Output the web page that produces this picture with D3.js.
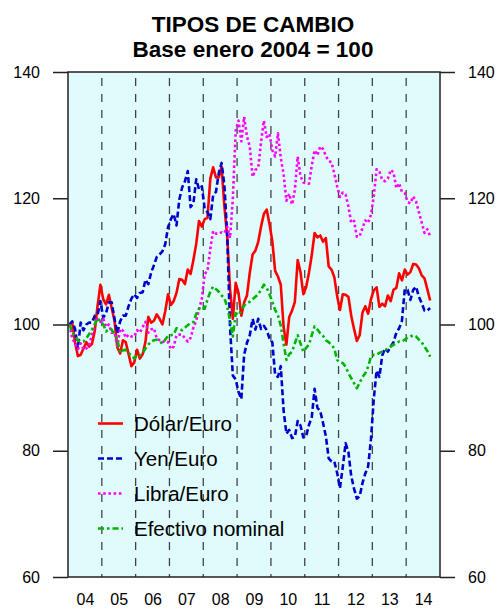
<!DOCTYPE html>
<html>
<head>
<meta charset="utf-8">
<script src="https://cdn.jsdelivr.net/npm/d3@7"></script>
<style>
	body { margin: 0; background: #fff; }
	text { font-family: "Liberation Sans", Arial, sans-serif; }
</style>
</head>
<body>
<svg id="chart"></svg>
<script>
// monthly index, Jan 2004 = 100 (Jan 2004 .. Sep 2014)
var startYear = 2004;
var yearLabels = ["04", "05", "06", "07", "08", "09", "10", "11", "12", "13", "14"];
var yTicks = [60, 80, 100, 120, 140];
var seriesNames = ["Dólar/Euro", "Yen/Euro", "Libra/Euro", "Efectivo nominal"];

var dolar = [
	100.0, 100.3, 97.2, 95.0, 95.2, 96.2, 97.2, 96.5, 96.9, 99.0, 103.0, 106.3,
	104.0, 103.2, 104.7, 102.6, 100.6, 96.4, 95.4, 97.5, 97.2, 95.3, 93.4, 94.0,
	96.0, 94.6, 95.3, 97.3, 101.2, 100.3, 100.6, 101.6, 100.9, 100.0, 102.1, 104.8,
	103.1, 103.7, 105.0, 107.2, 107.1, 106.4, 108.7, 108.0, 110.2, 112.8, 116.4, 115.5,
	116.7, 116.9, 123.1, 124.9, 123.3, 123.3, 125.0, 118.7, 113.9, 105.6, 100.9, 106.6,
	105.0, 101.4, 103.5, 104.6, 108.2, 111.1, 111.7, 113.1, 115.5, 117.5, 118.2, 115.9,
	113.2, 108.5, 107.6, 106.3, 99.6, 96.8, 101.2, 102.2, 103.6, 110.2, 108.3, 104.8,
	105.9, 108.2, 111.0, 114.5, 113.8, 114.1, 113.1, 113.7, 109.2, 108.7, 107.5, 104.5,
	102.3, 104.8, 104.7, 104.4, 101.4, 99.3, 97.4, 98.3, 101.9, 102.9, 101.7, 104.0,
	105.4, 105.9, 102.8, 103.3, 102.9, 104.6, 103.7, 105.5, 105.8, 108.1, 107.0, 108.7,
	107.9, 108.3, 109.6, 109.5, 108.9, 107.8, 107.3, 105.6, 103.8
];
var yen = [
	100.0, 100.5, 99.3, 96.2, 100.3, 99.1, 100.0, 100.3, 100.3, 101.4, 101.5, 103.7,
	101.1, 101.8, 103.5, 103.5, 100.9, 98.6, 100.5, 101.4, 101.4, 102.9, 104.1, 104.8,
	104.2, 105.0, 105.1, 107.1, 106.4, 108.2, 109.4, 110.7, 111.1, 111.6, 112.7, 115.4,
	116.7, 117.5, 115.7, 119.8, 121.7, 122.7, 124.3, 118.6, 119.2, 123.0, 121.4, 121.9,
	118.3, 117.8, 116.7, 120.5, 121.0, 124.0, 125.6, 122.0, 114.2, 99.5, 91.9, 91.3,
	89.3, 88.2, 95.2, 97.1, 98.3, 100.9, 99.2, 100.9, 99.3, 99.8, 99.1, 97.8,
	97.2, 92.0, 91.7, 93.4, 86.4, 82.7, 83.3, 82.0, 82.2, 84.7, 84.0, 82.1,
	82.3, 84.1, 85.3, 89.8, 86.8, 86.3, 84.4, 82.3, 78.8, 78.3, 78.3, 76.5,
	74.1, 77.4, 81.2, 79.8, 76.0, 74.0, 72.4, 72.8, 74.9, 76.4, 77.5, 81.8,
	88.2, 92.7, 91.7, 95.1, 96.2, 95.7, 96.5, 97.2, 98.7, 99.4, 100.6, 105.6,
	105.5, 103.9, 105.5, 106.0, 104.4, 103.4, 102.2, 102.2, 102.6
];
var libra = [
	100.0, 97.8, 97.0, 96.1, 97.0, 96.0, 96.2, 96.7, 98.4, 99.9, 100.9, 100.4,
	100.9, 99.6, 100.0, 98.7, 98.8, 96.6, 99.3, 99.0, 97.9, 98.4, 98.1, 98.1,
	99.1, 98.7, 99.6, 100.4, 98.7, 99.2, 99.4, 97.8, 97.5, 97.2, 97.4, 97.2,
	96.1, 96.5, 98.3, 98.4, 98.4, 97.8, 97.3, 97.9, 99.5, 100.6, 102.4, 104.1,
	108.0, 108.5, 112.0, 114.8, 114.4, 114.4, 114.6, 114.5, 115.5, 113.7, 120.0, 130.7,
	132.3, 129.0, 132.9, 129.8, 128.2, 123.4, 124.5, 124.8, 128.9, 132.3, 129.7, 130.2,
	127.6, 126.6, 130.3, 126.4, 123.8, 119.6, 120.7, 119.0, 121.3, 126.6, 123.5, 122.5,
	122.4, 122.3, 125.2, 127.6, 126.8, 128.2, 127.8, 126.7, 125.9, 125.7, 123.9, 121.9,
	120.2, 120.9, 120.6, 118.7, 116.1, 116.4, 113.9, 114.0, 115.3, 116.5, 116.1, 117.4,
	120.3, 124.6, 124.2, 122.9, 122.7, 123.1, 124.5, 124.1, 121.6, 122.4, 121.0, 120.8,
	119.4, 119.2, 120.3, 119.5, 117.8, 116.2, 114.5, 115.1, 114.0
];
var efectivo = [
	100.0, 98.8, 98.1, 97.5, 97.3, 97.3, 97.8, 98.5, 99.2, 100.0, 101.0, 100.5,
	100.0, 98.9, 99.3, 99.2, 98.4, 97.6, 95.5, 95.9, 96.0, 95.4, 95.2, 94.6,
	95.2, 95.1, 95.5, 96.2, 96.8, 97.3, 97.5, 97.6, 97.3, 97.0, 97.6, 98.2,
	98.3, 98.4, 99.4, 99.2, 99.1, 99.5, 99.9, 100.2, 100.4, 101.7, 102.5, 102.8,
	102.5, 104.0, 105.2, 106.0, 105.6, 105.2, 104.6, 104.2, 102.8, 100.7, 98.1, 101.8,
	101.5, 102.3, 103.0, 103.4, 103.6, 104.0, 104.4, 104.8, 105.5, 106.3, 105.8, 104.8,
	103.6, 102.3, 101.4, 99.8, 97.0, 94.4, 95.3, 95.7, 97.0, 98.3, 97.0, 95.7,
	96.3, 96.8, 98.3, 99.7, 99.2, 98.6, 98.2, 97.5, 97.2, 96.8, 96.2, 94.4,
	94.0, 93.9, 93.3, 92.3, 91.5, 90.7, 89.9, 90.8, 91.7, 92.3, 93.3, 94.9,
	95.2, 95.2, 95.5, 95.7, 95.9, 96.2, 96.5, 96.8, 97.0, 97.3, 97.3, 97.6,
	97.9, 98.1, 98.3, 98.1, 97.6, 97.2, 96.5, 95.8, 94.9
];

var w = 500;
var h = 609;
var margin = {
	left: 68,
	right: 60,
	top: 72,
	bottom: 32
};

var svg = d3.select("#chart")
	.attr("width", w)
	.attr("height", h);

var xScale = d3.scaleLinear()
	.domain([startYear, startYear + yearLabels.length])
	.range([margin.left, w - margin.right]);
var yScale = d3.scaleLinear()
	.domain([60, 140])
	.range([h - margin.bottom, margin.top]);

// plot background
svg.append("rect")
	.attr("x", xScale.range()[0])
	.attr("y", yScale.range()[1])
	.attr("width", xScale.range()[1] - xScale.range()[0])
	.attr("height", yScale.range()[0] - yScale.range()[1])
	.attr("fill", "#dffbfb");

// year separators
svg.selectAll("line.year")
	.data(d3.range(1, yearLabels.length))
	.enter()
	.append("line")
	.classed("year", true)
	.attr("x1", function (d) { return xScale(startYear + d); })
	.attr("x2", function (d) { return xScale(startYear + d); })
	.attr("y1", yScale(140) + 6)
	.attr("y2", yScale(60))
	.attr("stroke", "#444")
	.attr("stroke-width", 1.3)
	.attr("stroke-dasharray", "8,8");

var styles = [
	{ data: dolar, color: "#ff0000", dash: null },
	{ data: yen, color: "#0000cc", dash: "6,3" },
	{ data: libra, color: "#ff00ff", dash: "2.6,2.6" },
	{ data: efectivo, color: "#00b400", dash: "6,3,2.5,3" }
];

var line = d3.line()
	.x(function (d, i) {
		return xScale(startYear + (i + 0.5) / 12);
	})
	.y(function (d) {
		return yScale(d);
	});

styles.forEach(function (s) {
	svg.append("path")
		.datum(s.data)
		.classed("line", true)
		.attr("d", line)
		.attr("fill", "none")
		.attr("stroke", s.color)
		.attr("stroke-width", 2.6)
		.attr("stroke-linejoin", "round")
		.attr("stroke-dasharray", s.dash);
});

// frame
svg.append("rect")
	.attr("x", xScale.range()[0])
	.attr("y", yScale.range()[1])
	.attr("width", xScale.range()[1] - xScale.range()[0])
	.attr("height", yScale.range()[0] - yScale.range()[1])
	.attr("fill", "none")
	.attr("stroke", "#222")
	.attr("stroke-width", 1.5);

// axes
var yAxisL = d3.axisLeft(yScale).tickValues(yTicks).tickSize(15).tickPadding(13);
var yAxisR = d3.axisRight(yScale).tickValues(yTicks).tickSize(15).tickPadding(13);
var xAxis = d3.axisBottom(xScale)
	.tickValues(yearLabels.map(function (d, i) { return startYear + i + 0.5; }))
	.tickFormat(function (d, i) { return yearLabels[i]; })
	.tickSize(0)
	.tickPadding(17);

svg.append("g")
	.classed("yAxis", true)
	.attr("transform", "translate(" + xScale.range()[0] + ",0)")
	.call(yAxisL);
svg.append("g")
	.classed("yAxis", true)
	.attr("transform", "translate(" + xScale.range()[1] + ",0)")
	.call(yAxisR);
svg.append("g")
	.classed("xAxis", true)
	.attr("transform", "translate(0," + yScale.range()[0] + ")")
	.call(xAxis);

svg.selectAll(".domain").remove();
svg.selectAll(".tick line").attr("stroke", "#222").attr("stroke-width", 1.5);
svg.selectAll(".tick text")
	.attr("font-family", "Liberation Sans, Arial, sans-serif")
	.attr("font-size", 16)
	.attr("fill", "#000");

// title
svg.append("text")
	.attr("x", 253)
	.attr("y", 32)
	.attr("text-anchor", "middle")
	.attr("font-size", 22.5)
	.attr("font-weight", "bold")
	.text("TIPOS DE CAMBIO");
svg.append("text")
	.attr("x", 253)
	.attr("y", 57)
	.attr("text-anchor", "middle")
	.attr("font-size", 22.5)
	.attr("font-weight", "bold")
	.text("Base enero 2004 = 100");

// legend
var legend = svg.selectAll("g.legend")
	.data(styles)
	.enter()
	.append("g")
	.classed("legend", true)
	.attr("transform", function (d, i) {
		return "translate(98," + (423.5 + i * 35) + ")";
	});
legend.append("line")
	.attr("x1", 0)
	.attr("x2", 25)
	.attr("stroke", function (d) { return d.color; })
	.attr("stroke-width", 2.6)
	.attr("stroke-dasharray", function (d) { return d.dash; });
legend.append("text")
	.attr("x", 36)
	.attr("y", 7.5)
	.attr("font-size", 20.5)
	.attr("fill", "#000")
	.text(function (d, i) { return seriesNames[i]; });
</script>
</body>
</html>
